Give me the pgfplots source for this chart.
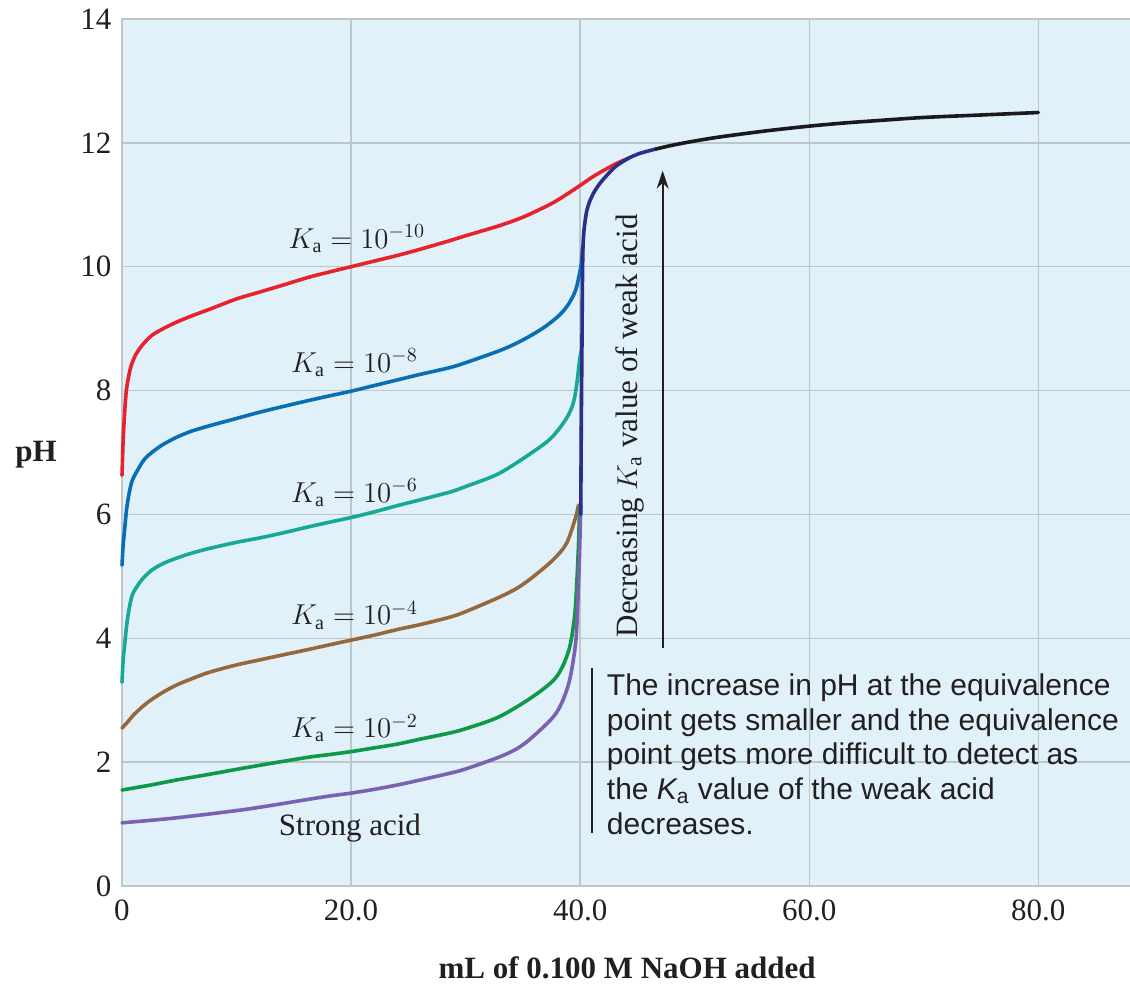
\documentclass[border=0pt]{standalone}
\usepackage{fontspec}
\setmainfont{Liberation Serif}
\newfontfamily\notefont{Liberation Sans}
\usepackage{pgfplots}
\usepackage{pgfplotstable}
\pgfplotsset{compat=1.18}
\usetikzlibrary{arrows.meta}

\definecolor{bgblue}{RGB}{225,241,250}
\definecolor{gridgrey}{RGB}{190,198,204}
\definecolor{cred}{RGB}{232,34,44}
\definecolor{cblue}{RGB}{10,110,180}
\definecolor{cteal}{RGB}{24,168,150}
\definecolor{cbrown}{RGB}{150,104,62}
\definecolor{cgreen}{RGB}{14,152,72}
\definecolor{cpurple}{RGB}{122,98,176}
\definecolor{cnavy}{RGB}{44,46,140}
\definecolor{cblack}{RGB}{25,25,30}
\definecolor{textdark}{RGB}{35,31,32}

% Titration curves: volume of NaOH (mL) vs pH
\pgfplotstableread{
x y
0 6.63
0.1 7.2
0.2 7.55
0.35 7.95
0.55 8.2
0.8 8.4
1.2 8.58
1.8 8.74
2.6 8.89
3.6 9.0
4.7 9.1
6 9.2
7.6 9.31
10 9.48
12 9.59
14 9.7
16.3 9.83
18 9.91
20 10.0
22 10.09
24 10.18
26 10.28
28.6 10.42
30 10.5
32.9 10.66
35 10.8
37.3 11.0
38.5 11.13
39.9 11.3
41 11.44
42 11.55
43.2 11.67
44.2 11.75
}\tblKaTen

\pgfplotstableread{
x y
0 5.18
0.1 5.5
0.25 5.8
0.4 6.08
0.6 6.32
0.9 6.55
1.5 6.76
2.0 6.9
2.6 7.0
3.5 7.12
4.7 7.24
6 7.34
7.6 7.43
10 7.55
12 7.65
14 7.74
16.3 7.84
18 7.91
20 7.99
22 8.08
24 8.17
26 8.26
28.6 8.37
30 8.45
32.9 8.64
34.5 8.77
35.8 8.9
37 9.04
38.2 9.22
39 9.4
39.6 9.62
39.9 9.85
40.1 10.05
40.2 10.3
}\tblKaEight

\pgfplotstableread{
x y
0 3.29
0.1 3.65
0.25 3.92
0.4 4.2
0.6 4.45
0.9 4.7
1.5 4.89
2.0 5.0
2.6 5.1
3.5 5.2
4.7 5.29
6 5.37
7.6 5.45
10 5.55
12 5.62
14 5.7
16.3 5.8
18 5.87
20 5.95
22 6.04
24 6.14
25.7 6.22
28.6 6.36
30 6.45
32.9 6.66
35.8 7.0
37.5 7.24
38.8 7.55
39.4 7.8
39.7 8.1
39.95 8.5
40.1 8.65
}\tblKaSix

\pgfplotstableread{
x y
0 2.55
0.5 2.65
1 2.76
1.75 2.89
2.5 3.0
3.5 3.12
4.7 3.24
6 3.34
7.6 3.45
10 3.57
12 3.65
14 3.73
16.3 3.82
18 3.89
20 3.97
22 4.05
24 4.14
26 4.22
28.6 4.34
30 4.43
32.9 4.66
34.5 4.81
35.8 4.98
37.6 5.26
38.8 5.53
39.6 5.95
39.85 6.15
}\tblKaFour

\pgfplotstableread{
x y
0 1.55
2.5 1.63
4.7 1.71
7.5 1.8
10.5 1.9
13 1.98
16.3 2.08
18 2.12
20 2.17
22 2.23
24 2.29
26 2.37
28.6 2.47
30 2.54
32.9 2.73
35.8 3.05
37.9 3.37
39 3.8
39.5 4.34
39.7 4.88
39.85 5.5
39.95 6.1
}\tblKaTwo

\pgfplotstableread{
x y
0 1.02
2.5 1.06
4.7 1.10
7.5 1.16
10.5 1.23
13 1.3
16.3 1.40
18 1.45
20 1.5
22 1.56
24 1.63
26 1.71
28.6 1.82
30 1.89
32.9 2.08
34.5 2.22
35.8 2.4
37.9 2.79
39 3.27
39.6 3.92
39.8 4.6
39.95 5.4
40.05 6.15
}\tblStrong

\pgfplotstableread{
x y
40.05 6.0
40.1 7.5
40.15 8.6
40.2 9.8
40.25 10.35
40.35 10.62
40.55 10.88
40.8 11.04
41.2 11.2
41.7 11.34
42.3 11.47
43.1 11.62
44.2 11.75
45.2 11.83
46.6 11.9
}\tblEquiv

\pgfplotstableread{
x y
46.6 11.9
48 11.96
50 12.03
52 12.09
54.8 12.16
57 12.21
60 12.27
63 12.32
66 12.36
70 12.41
75 12.45
80 12.49
}\tblExcess

\begin{document}
\begin{tikzpicture}
\begin{axis}[
  name=ax,
  scale only axis,
  width=504pt, height=433.5pt,
  xmin=0, xmax=88, ymin=0, ymax=14,
  xtick={0,20,40,60,80},
  xticklabels={0,20.0,40.0,60.0,80.0},
  ytick={0,2,...,14},
  yticklabels={0,2,4,6,8,10,12,14},
  major tick length=0pt,
  grid=major,
  major grid style={gridgrey, line width=0.75pt},
  axis line style={draw=none},
  axis background/.style={fill=bgblue},
  /pgf/number format/assume math mode=true,
  tick label style={font=\fontsize{15.5}{18}\selectfont, text=textdark},
  xticklabel style={yshift=-3.3pt},
  yticklabel style={xshift=-1.8pt},
  clip=false,
  every axis plot/.append style={line width=1.8pt, line join=round, line cap=round},
]
\draw[gridgrey, line width=1.1pt] (rel axis cs:1,1) -- (rel axis cs:0,1) -- (rel axis cs:0,0) -- (rel axis cs:1,0);

\addplot[cred, smooth, tension=0.5] table[x=x,y=y] {\tblKaTen};
\addplot[cblue, smooth, tension=0.5] table[x=x,y=y] {\tblKaEight};
\addplot[cteal, smooth, tension=0.5] table[x=x,y=y] {\tblKaSix};
\addplot[cbrown, smooth, tension=0.5] table[x=x,y=y] {\tblKaFour};
\addplot[cgreen, smooth, tension=0.5] table[x=x,y=y] {\tblKaTwo};
\addplot[cpurple, smooth, tension=0.5] table[x=x,y=y] {\tblStrong};
\addplot[cnavy, smooth, tension=0.4] table[x=x,y=y] {\tblEquiv};
\addplot[cblack, smooth, tension=0.5] table[x=x,y=y] {\tblExcess};

% curve labels
\begin{scope}[every node/.style={text=textdark, font=\fontsize{14.4}{17}\selectfont}]
\node at (axis cs:20.5,10.45) {$K_{\mathrm{a}} = 10^{-10}$};
\node at (axis cs:20.3,8.45) {$K_{\mathrm{a}} = 10^{-8}$};
\node at (axis cs:20.3,6.35) {$K_{\mathrm{a}} = 10^{-6}$};
\node at (axis cs:20.3,4.37) {$K_{\mathrm{a}} = 10^{-4}$};
\node at (axis cs:20.3,2.55) {$K_{\mathrm{a}} = 10^{-2}$};
\end{scope}
\node[text=textdark, font=\fontsize{15.5}{18}\selectfont] at (axis cs:19.9,0.94) {Strong acid};

% trend arrow
\node[rotate=90, text=textdark, font=\fontsize{15.5}{18}\selectfont] at (axis cs:44.3,7.43) {Decreasing $K_{\mathrm{a}}$ value of weak acid};
\draw[textdark, line width=0.9pt, -{Stealth[length=9pt,width=6pt]}] (axis cs:47.2,3.85) -- (axis cs:47.2,11.55);

% note
\draw[textdark, line width=1pt] (axis cs:41.05,3.52) -- (axis cs:41.05,0.85);
\node[anchor=north west, align=left, inner sep=0pt, text=textdark,
      font=\notefont\fontsize{15}{17.3}\selectfont] at (axis cs:42.3,3.43)
  {The increase in pH at the equivalence\\
   point gets smaller and the equivalence\\
   point gets more difficult to detect as\\
   the {\itshape K}\textsubscript{a} value of the weak acid\\
   decreases.};

% axis labels
\node[text=textdark, font=\bfseries\fontsize{15.5}{18}\selectfont] at (rel axis cs:0,0.497) [xshift=-43pt] {pH};
\node[text=textdark, font=\bfseries\fontsize{15.5}{18}\selectfont] at (axis cs:44.1,0) [yshift=-41pt] {mL of 0.100 M NaOH added};
\end{axis}
\pgfresetboundingbox
\path[use as bounding box] ([shift={(-61pt,-49.5pt)}]ax.south west) rectangle ([shift={(0pt,9.5pt)}]ax.north east);
\end{tikzpicture}
\end{document}
